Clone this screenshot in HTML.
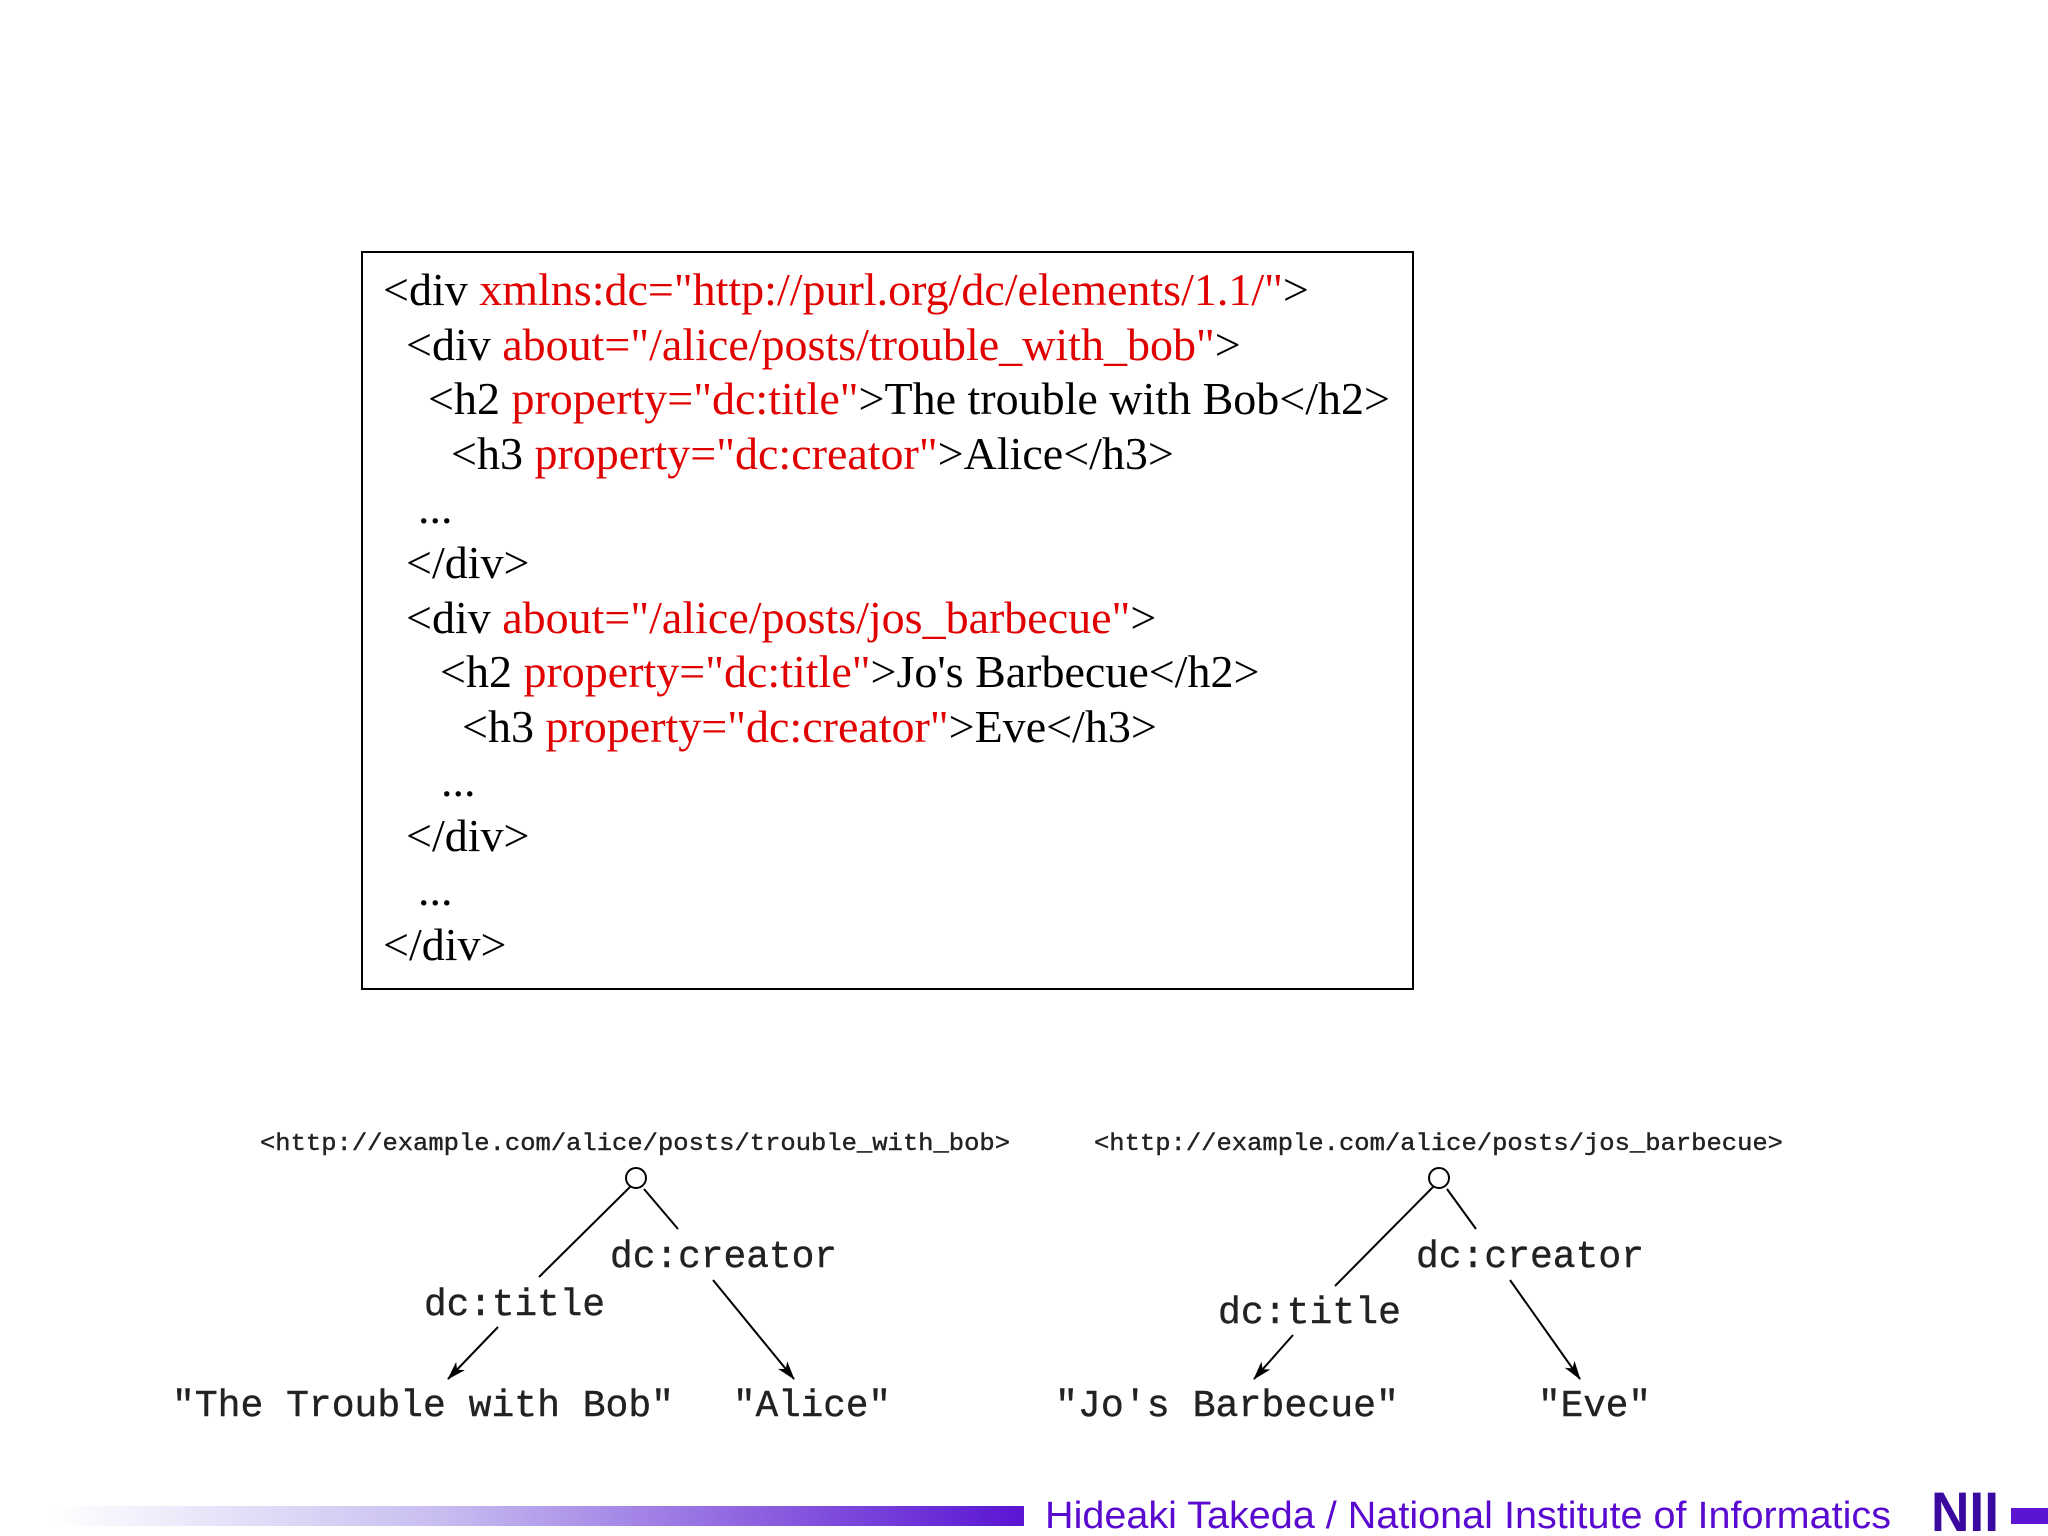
<!DOCTYPE html>
<html><head><meta charset="utf-8"><style>
html,body{margin:0;padding:0;background:#fff;}
svg{display:block;}
.c{font-family:"Liberation Serif",serif;font-size:46px;fill:#000;}
.r{fill:#e00000;}
.m{font-family:"Liberation Mono",monospace;fill:#222;stroke:#222;stroke-width:0.4;}
</style></head><body>
<svg width="2048" height="1536" viewBox="0 0 2048 1536" xmlns="http://www.w3.org/2000/svg">
<defs>
<linearGradient id="g" x1="0" x2="1" y1="0" y2="0">
<stop offset="0" stop-color="#ffffff"/>
<stop offset="0.4" stop-color="#c8bdf0"/>
<stop offset="1" stop-color="#5a14d2"/>
</linearGradient>
<marker id="a" markerWidth="20" markerHeight="16" refX="18" refY="8" orient="auto" markerUnits="userSpaceOnUse">
<path d="M0,2 L19,8 L0,14 L5,8 Z" fill="#000"/>
</marker>
</defs>
<rect x="362" y="252" width="1051" height="737" fill="#fff" stroke="#000" stroke-width="2"/>
<g class="c">
<text x="383" y="305">&lt;div <tspan class="r">xmlns:dc="http://purl.org/dc/elements/1.1/"</tspan>&gt;</text>
<text x="406" y="360">&lt;div <tspan class="r">about="/alice/posts/trouble_with_bob"</tspan>&gt;</text>
<text x="428" y="414">&lt;h2 <tspan class="r">property="dc:title"</tspan>&gt;The trouble with Bob&lt;/h2&gt;</text>
<text x="451" y="469">&lt;h3 <tspan class="r">property="dc:creator"</tspan>&gt;Alice&lt;/h3&gt;</text>
<text x="418" y="523">...</text>
<text x="406" y="578">&lt;/div&gt;</text>
<text x="406" y="633">&lt;div <tspan class="r">about="/alice/posts/jos_barbecue"</tspan>&gt;</text>
<text x="440" y="687">&lt;h2 <tspan class="r">property="dc:title"</tspan>&gt;Jo's Barbecue&lt;/h2&gt;</text>
<text x="462" y="742">&lt;h3 <tspan class="r">property="dc:creator"</tspan>&gt;Eve&lt;/h3&gt;</text>
<text x="441" y="796">...</text>
<text x="406" y="851">&lt;/div&gt;</text>
<text x="418" y="905">...</text>
<text x="383" y="960">&lt;/div&gt;</text>
</g>
<g class="m">
<text x="260" y="1150" font-size="24" textLength="750" lengthAdjust="spacingAndGlyphs">&lt;http://example.com/alice/posts/trouble_with_bob&gt;</text>
<text x="1094" y="1150" font-size="24" textLength="689" lengthAdjust="spacingAndGlyphs">&lt;http://example.com/alice/posts/jos_barbecue&gt;</text>
<text x="610" y="1267" font-size="38" textLength="227" lengthAdjust="spacingAndGlyphs">dc:creator</text>
<text x="424" y="1315" font-size="38" textLength="181" lengthAdjust="spacingAndGlyphs">dc:title</text>
<text x="172" y="1416" font-size="38" textLength="502" lengthAdjust="spacingAndGlyphs">"The Trouble with Bob"</text>
<text x="733" y="1416" font-size="38" textLength="158" lengthAdjust="spacingAndGlyphs">"Alice"</text>
<text x="1416" y="1267" font-size="38" textLength="228" lengthAdjust="spacingAndGlyphs">dc:creator</text>
<text x="1218" y="1323" font-size="38" textLength="183" lengthAdjust="spacingAndGlyphs">dc:title</text>
<text x="1055" y="1416" font-size="38" textLength="344" lengthAdjust="spacingAndGlyphs">"Jo's Barbecue"</text>
<text x="1538" y="1416" font-size="38" textLength="113" lengthAdjust="spacingAndGlyphs">"Eve"</text>
</g>
<g stroke="#000" stroke-width="2" fill="none">
<line x1="630" y1="1187" x2="539" y2="1277"/>
<line x1="644" y1="1189" x2="678" y2="1229"/>
<line x1="498" y1="1327" x2="448" y2="1379" marker-end="url(#a)"/>
<line x1="713" y1="1280" x2="794" y2="1379" marker-end="url(#a)"/>
<line x1="1433" y1="1187" x2="1335" y2="1286"/>
<line x1="1447" y1="1189" x2="1476" y2="1229"/>
<line x1="1293" y1="1335" x2="1254" y2="1379" marker-end="url(#a)"/>
<line x1="1510" y1="1280" x2="1580" y2="1379" marker-end="url(#a)"/>
<circle cx="636" cy="1178" r="10" fill="#fff"/>
<circle cx="1439" cy="1178" r="10" fill="#fff"/>
</g>
<rect x="52" y="1506" width="972" height="20" fill="url(#g)"/>
<text x="1045" y="1528" font-family="Liberation Sans,sans-serif" font-size="38" fill="#5a0ad0" textLength="846" lengthAdjust="spacingAndGlyphs">Hideaki Takeda / National Institute of Informatics</text>
<text x="1931" y="1531" font-family="Liberation Sans,sans-serif" font-weight="bold" font-size="56" fill="#3a0aa0" textLength="68" lengthAdjust="spacingAndGlyphs">NII</text>
<rect x="2011" y="1508" width="37" height="16" fill="#5a14d2"/>
</svg>
</body></html>
